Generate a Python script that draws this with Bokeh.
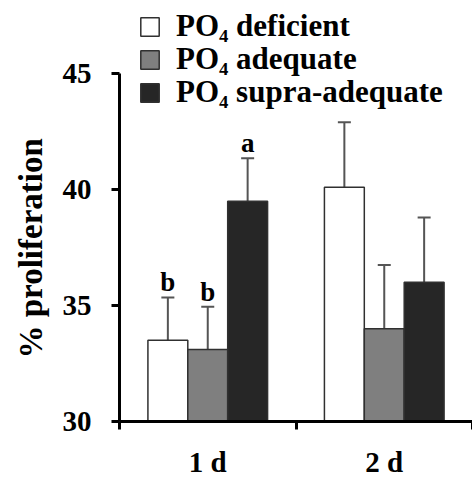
from bokeh.plotting import figure
from bokeh.models import (ColumnDataSource, Range1d, FixedTicker, Whisker, TeeHead,
                          Legend, LegendItem, Title)
from bokeh.core.properties import value
from bokeh.embed import file_html
from bokeh.resources import INLINE

# ---- data ----
days = ["1 d", "2 d"]
series_names = ["PO\u2084 deficient", "PO\u2084 adequate", "PO\u2084 supra-adequate"]
deficient = [33.5, 40.1]
adequate = [33.1, 34.0]
supra = [39.5, 36.0]
deficient_err = [1.85, 2.8]
adequate_err = [1.85, 2.75]
supra_err = [1.85, 2.8]
deficient_sig = ["b", ""]
adequate_sig = ["b", ""]
supra_sig = ["a", ""]
y_ticks = [30, 35, 40, 45]
y_title = "% proliferation"

FONT = "Liberation Serif"
fills = ["#ffffff", "#7f7f7f", "#262626"]

p = figure(width=472, height=480, output_backend="svg", toolbar_location=None,
           x_range=Range1d(0, 2), y_range=Range1d(30, 48.15),
           min_border_left=118, min_border_right=0, min_border_top=0,
           min_border_bottom=57)
p.outline_line_color = None
p.xgrid.grid_line_color = None
p.ygrid.grid_line_color = None
p.background_fill_color = "white"

bw = 0.226
offsets = [-bw, 0.0, bw]
groups = [(deficient, deficient_err, deficient_sig),
          (adequate, adequate_err, adequate_sig),
          (supra, supra_err, supra_sig)]

legend_y = [377, 344, 311]   # screen offsets of the three legend rows

for k, (vals, errs, sig) in enumerate(groups):
    xs = [i + 0.5 + offsets[k] for i in range(len(days))]
    src = ColumnDataSource(dict(x=xs, top=vals,
                                upper=[v + e for v, e in zip(vals, errs)],
                                sig=sig))
    r = p.vbar(x="x", top="top", bottom=30, width=bw, source=src,
               fill_color=fills[k], line_color="#303030", line_width=1.5)
    w = Whisker(source=src, base="x", lower="top", upper="upper",
                line_color="#555555", line_width=2,
                upper_head=TeeHead(size=13, line_color="#555555", line_width=2),
                lower_head=None)
    p.add_layout(w)
    p.text(x="x", y="upper", text="sig", source=src, text_align="center",
           text_baseline="bottom", text_font=value(FONT), text_font_style="bold",
           text_font_size="27px", text_color="black")
    lg = Legend(items=[LegendItem(label=series_names[k], renderers=[r])],
                location=(19, legend_y[k]), padding=0, margin=0, spacing=0,
                glyph_width=23, glyph_height=23, label_standoff=15,
                label_text_font=FONT, label_text_font_style="bold",
                label_text_font_size="31px", label_text_color="black",
                background_fill_alpha=0, border_line_color=None)
    p.add_layout(lg)

# y axis
ya = p.yaxis[0]
ya.ticker = FixedTicker(ticks=y_ticks)
ya.bounds = (30, 45)
ya.axis_line_width = 3
ya.major_tick_line_width = 3
ya.major_tick_out = 8
ya.major_tick_in = 0
ya.minor_tick_line_color = None
ya.major_label_standoff = 20
ya.major_label_text_font = FONT
ya.major_label_text_font_style = "bold"
ya.major_label_text_font_size = "29px"
ya.major_label_text_color = "black"

# y-axis title
p.add_layout(Title(text=y_title, align="left", offset=63, standoff=21,
                   text_font=FONT, text_font_style="bold",
                   text_font_size="33px", text_color="black"), "left")

# x axis
xa = p.xaxis[0]
xa.ticker = FixedTicker(ticks=[0.5, 1.5], minor_ticks=[0, 1, 2])
xa.major_label_overrides = {0.5: days[0], 1.5: days[1]}
xa.axis_line_width = 3
xa.major_tick_line_color = None
xa.major_tick_out = 0
xa.major_tick_in = 0
xa.minor_tick_line_width = 3
xa.minor_tick_out = 8
xa.minor_tick_in = 0
xa.major_label_standoff = 16
xa.major_label_text_font = FONT
xa.major_label_text_font_style = "bold"
xa.major_label_text_font_size = "29px"
xa.major_label_text_color = "black"

open("out.html", "w").write(file_html(p, INLINE))
